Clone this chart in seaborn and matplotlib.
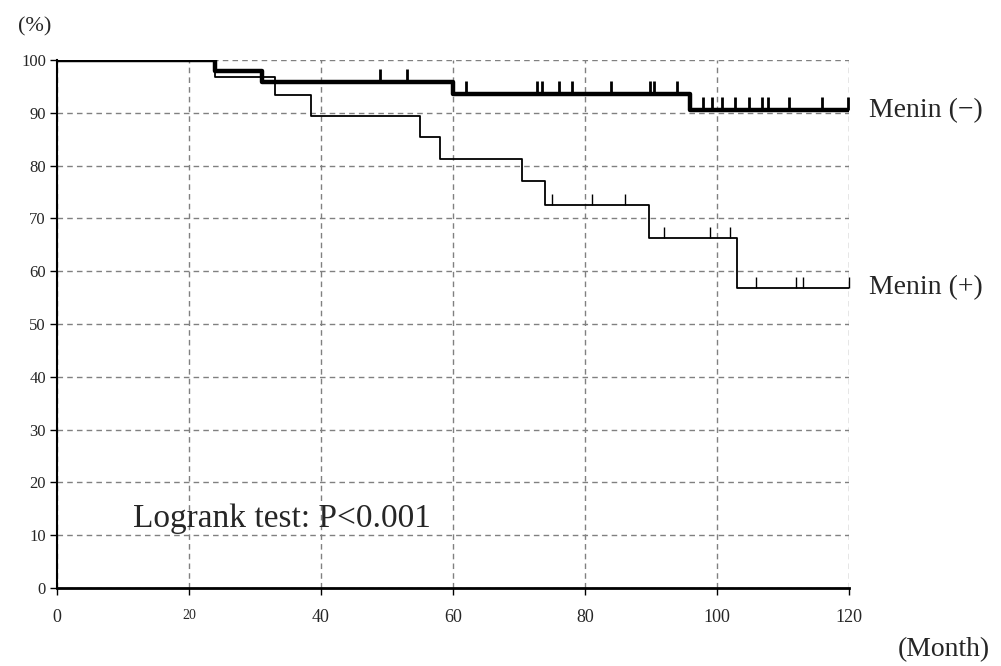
import numpy as np
import seaborn as sns
import matplotlib.pyplot as plt

# Kaplan-Meier steps (months, % survival)
neg_time = [0, 24, 31, 60, 96, 120]
neg_surv = [100, 97.9, 95.8, 93.6, 90.5, 90.5]
neg_censor = [49, 53, 62, 72.8, 73.5, 76, 78, 84, 89.8, 90.5, 94,
              97.9, 99.2, 100.8, 102.8, 104.8, 106.8, 107.7, 111, 116, 119.8]

pos_time = [0, 24, 33, 38.5, 55, 58, 70.5, 74, 89.7, 103, 120]
pos_surv = [100, 96.7, 93.3, 89.4, 85.4, 81.3, 77.0, 72.6, 66.3, 56.9, 56.9]
pos_censor = [75, 81, 86, 92, 99, 102, 106, 112, 113, 120]

x_ticks = [0, 20, 40, 60, 80, 100, 120]
y_ticks = [0, 10, 20, 30, 40, 50, 60, 70, 80, 90, 100]
group_labels = ["Menin (\u2212)", "Menin (+)"]
p_text = "Logrank test: P<0.001"

sns.set_style("white")
plt.rcParams['font.family'] = ['Liberation Serif', 'DejaVu Serif']

fig = plt.figure(figsize=(10.01, 6.66), dpi=100)
ax = fig.add_axes([0.057, 0.117, 0.791, 0.793])


def surv_at(times, surv, t):
    idx = np.searchsorted(times, t, side='right') - 1
    return np.asarray(surv)[idx]


groups = [
    (neg_time, neg_surv, neg_censor, 3.2, 2.0, 2.4),
    (pos_time, pos_surv, pos_censor, 1.3, 1.0, 2.0),
]
for (t, s, c, lw, tlw, th), label in zip(groups, group_labels):
    sns.lineplot(x=t, y=s, drawstyle='steps-post', color='black', lw=lw,
                 estimator=None, ax=ax)
    lvl = surv_at(t, s, c)
    ax.vlines(c, lvl, lvl + th, color='black', lw=tlw, clip_on=False)
    ax.text(123, s[-1], label, fontsize=20, va='center', ha='left', clip_on=False)

ax.set_xlim(0, 120)
ax.set_ylim(0, 100)
ax.set_xticks(x_ticks)
ax.set_yticks(y_ticks)
ax.grid(True, ls=(0, (4, 3)), color='#808080', lw=1)
for side in ['top', 'right']:
    ax.spines[side].set_visible(False)
ax.spines['left'].set_color('black')
ax.spines['left'].set_linewidth(1.5)
ax.spines['bottom'].set_color('black')
ax.spines['bottom'].set_linewidth(2)
ax.tick_params(axis='y', direction='out', length=5, width=1, color='black',
               labelsize=12, pad=3, left=True)
ax.tick_params(axis='x', direction='out', length=5, width=1, color='black',
               labelsize=13, pad=10, bottom=True)
for lab in ax.get_xticklabels():
    if lab.get_text() == '20':
        lab.set_fontsize(10)

ax.text(11.5, 11.5, p_text, fontsize=24, va='baseline', ha='left')
fig.text(0.018, 1 - 27 / 666, "(%)", fontsize=16, va='center', ha='left')
fig.text(990 / 1001, 1 - 650 / 666, "(Month)", fontsize=20, va='center', ha='right')

fig.savefig("out.png", dpi=100)
